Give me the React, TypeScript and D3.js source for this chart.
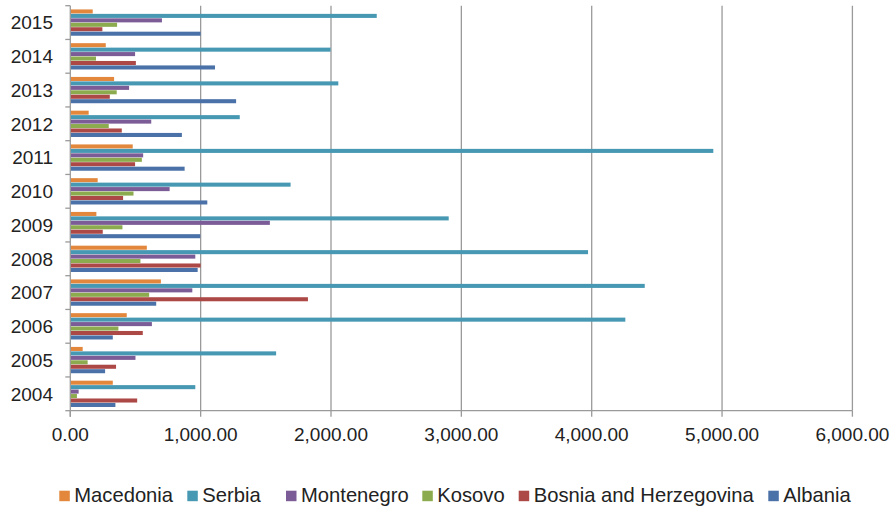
import React from "react";
import * as d3 from "d3";

// Years, drawn bottom (2004) to top (2015)
const years = ["2004", "2005", "2006", "2007", "2008", "2009", "2010", "2011", "2012", "2013", "2014", "2015"];

// Series in the order they appear inside each group (top to bottom)
const seriesNames = ["Macedonia", "Serbia", "Montenegro", "Kosovo", "Bosnia and Herzegovina", "Albania"];
const seriesColors = ["#E2873C", "#4799B3", "#7B5C97", "#8CAB4F", "#AC4845", "#4A71A8"];

// Values per series, one per year (2004 … 2015)
const macedonia = [326, 95, 433, 695, 587, 200, 210, 479, 141, 336, 272, 172];
const serbia = [959, 1579, 4258, 4407, 3972, 2903, 1690, 4933, 1300, 2056, 1997, 2351];
const montenegro = [64, 500, 626, 936, 959, 1531, 762, 559, 621, 451, 497, 703];
const kosovo = [51, 133, 369, 605, 538, 400, 485, 549, 295, 356, 197, 359];
const bosnia = [513, 351, 556, 1823, 1000, 249, 405, 497, 395, 303, 503, 246];
const albania = [346, 267, 326, 659, 977, 997, 1051, 877, 856, 1272, 1110, 1000];

const seriesValues = [macedonia, serbia, montenegro, kosovo, bosnia, albania];

const xTicks = [0, 1000, 2000, 3000, 4000, 5000, 6000];

// Layout
const W = 893;
const H = 509;
const plotLeft = 70.3;
const plotRight = 852.4;
const plotTop = 5.7;
const plotBottom = 410.7;
const gapRatio = 1.58; // space between groups, in bar widths
const legendX = [59.3, 187.3, 286, 422.3, 518.7, 768.3];
const font = "'Liberation Sans', Arial, sans-serif";
const gridColor = "#9a9a9a";

export default function App() {
  const x = d3.scaleLinear().domain([0, 6000]).range([plotLeft, plotRight]);
  const y0 = d3
    .scaleBand<string>()
    .domain([...years].reverse())
    .range([plotTop, plotBottom])
    .padding(0);
  const band = y0.bandwidth();
  const barH = band / (seriesNames.length + gapRatio);
  const groupOffset = (band - barH * seriesNames.length) / 2;
  const y1 = d3
    .scaleBand<string>()
    .domain(seriesNames)
    .range([groupOffset, groupOffset + barH * seriesNames.length])
    .padding(0);

  return (
    <svg
      width={W}
      height={H}
      style={{ position: "absolute", left: 0, top: 0, background: "#fff" }}
      fontFamily={font}
    >
      {/* vertical gridlines */}
      {xTicks.slice(1).map((t) => (
        <line key={t} x1={x(t)} x2={x(t)} y1={plotTop} y2={plotBottom} stroke={gridColor} strokeWidth={1.3} />
      ))}

      {/* bars */}
      {years.map((yr, yi) => (
        <g key={yr} transform={`translate(0,${y0(yr)})`}>
          {seriesNames.map((s, si) => (
            <rect
              key={s}
              x={x(0)}
              y={y1(s)! + 0.2}
              width={x(seriesValues[si][yi]) - x(0)}
              height={y1.bandwidth() - 0.4}
              fill={seriesColors[si]}
            />
          ))}
        </g>
      ))}

      {/* category axis */}
      <line x1={plotLeft} x2={plotLeft} y1={plotTop} y2={plotBottom + 6} stroke={gridColor} strokeWidth={1.3} />
      {[...years.map((yr) => y0(yr)!), plotBottom].map((yy, i) => (
        <line key={i} x1={plotLeft - 5} x2={plotLeft} y1={yy} y2={yy} stroke={gridColor} strokeWidth={1.3} />
      ))}
      {years.map((yr) => (
        <text
          key={yr}
          x={53}
          y={y0(yr)! + band / 2 + 6.8}
          textAnchor="end"
          fontSize={19}
          fill="#222"
        >
          {yr}
        </text>
      ))}

      {/* value axis */}
      <line x1={plotLeft} x2={plotRight} y1={plotBottom} y2={plotBottom} stroke={gridColor} strokeWidth={1.3} />
      {xTicks.map((t) => (
        <g key={t}>
          <line x1={x(t)} x2={x(t)} y1={plotBottom} y2={plotBottom + 6} stroke={gridColor} strokeWidth={1.3} />
          <text x={x(t)} y={440.5} textAnchor="middle" fontSize={19} fill="#222">
            {d3.format(",.2f")(t)}
          </text>
        </g>
      ))}

      {/* legend */}
      {seriesNames.map((s, i) => (
        <g key={s} transform={`translate(${legendX[i]},0)`}>
          <rect x={0} y={490.7} width={10.5} height={10.5} fill={seriesColors[i]} />
          <text x={15} y={501.7} fontSize={20.2} fill="#222">
            {s}
          </text>
        </g>
      ))}
    </svg>
  );
}
